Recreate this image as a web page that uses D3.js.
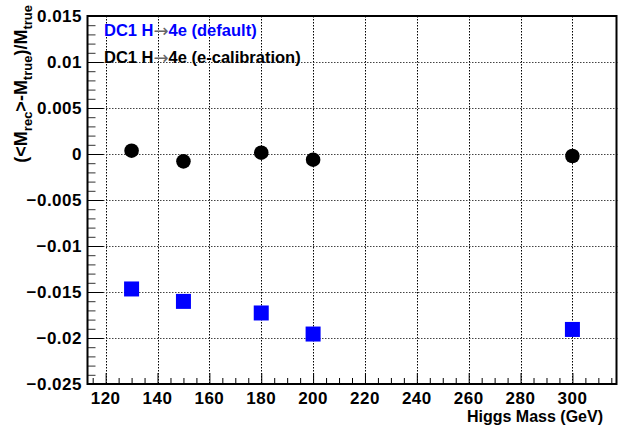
<!DOCTYPE html>
<html>
<head>
<meta charset="utf-8">
<script src="https://cdn.jsdelivr.net/npm/d3@7"></script>
<style>
	body { margin: 0; background: #fff; }
	svg { display: block; font-family: "Liberation Sans", Arial, sans-serif; }
</style>
</head>
<body>
<script>
// values
var masses = [130, 150, 180, 200, 300];
var defaultVals = [-0.01467, -0.01602, -0.01728, -0.01957, -0.01907];
var calibVals = [0.00036, -0.0008, 0.00014, -0.00062, -0.00022];

var xTicks = [120, 140, 160, 180, 200, 220, 240, 260, 280, 300];
var yTicks = [-0.025, -0.02, -0.015, -0.01, -0.005, 0, 0.005, 0.01, 0.015];
var legendLabels = ['(default)', '(e-calibration)'];

var w = 618, h = 427;
var frame = {left: 87.5, right: 616.5, top: 16, bottom: 384};

var svg = d3.select('body').append('svg')
	.attr('width', w)
	.attr('height', h);

var x = d3.scaleLinear().domain([113, 317]).range([frame.left, frame.right]);
var y = d3.scaleLinear().domain([-0.025, 0.015]).range([frame.bottom, frame.top]);

// dotted grid at the major ticks, built from small dots (dasharray did not show up)
var grid = svg.append('g').attr('class', 'grid');
var vDots = d3.range(Math.ceil(frame.top), frame.bottom, 3);
var hDots = d3.range(Math.ceil(frame.left), frame.right, 3);

xTicks.forEach(function(t){
	var gx = Math.round(x(t));
	grid.append('g').selectAll('rect')
		.data(vDots).enter()
		.append('rect')
		.attr('x', gx)
		.attr('y', function(d){ return d; })
		.attr('width', 1)
		.attr('height', 1.5)
		.attr('fill', '#000');
});
yTicks.slice(1, -1).forEach(function(t){
	var gy = Math.round(y(t));
	grid.append('g').selectAll('rect')
		.data(hDots).enter()
		.append('rect')
		.attr('x', function(d){ return d; })
		.attr('y', gy)
		.attr('width', 1.5)
		.attr('height', 1)
		.attr('fill', '#444');
});

// axes, ticks pointing inside like ROOT
var xAxis = d3.axisTop(x)
	.tickValues(d3.range(115, 317, 5))
	.tickSize(6)
	.tickFormat('');
svg.append('g')
	.attr('transform', 'translate(0,' + frame.bottom + ')')
	.call(xAxis)
	.call(function(g){
		g.select('.domain').remove();
		g.selectAll('.tick line')
			.filter(function(d){ return d % 20 === 0; })
			.attr('y2', -11);
	});

var yAxis = d3.axisRight(y)
	.tickValues(d3.range(-24, 15, 1).map(function(d){ return d / 1000; }))
	.tickSize(8)
	.tickFormat('');
svg.append('g')
	.attr('transform', 'translate(' + frame.left + ',0)')
	.call(yAxis)
	.call(function(g){
		g.select('.domain').remove();
		g.selectAll('.tick line')
			.attr('stroke', '#333')
			.filter(function(d){ return Math.abs(Math.round(d * 1000)) % 5 === 0; })
			.attr('x2', 16)
			.attr('stroke', '#000');
	});

// tick labels
svg.append('g').selectAll('text')
	.data(xTicks).enter()
	.append('text')
	.attr('x', function(d){ return x(d); })
	.attr('y', 404)
	.attr('text-anchor', 'middle')
	.attr('font-size', 17)
	.attr('letter-spacing', 0.5)
	.attr('font-weight', 'bold')
	.text(function(d){ return d; });

svg.append('g').selectAll('text')
	.data(yTicks).enter()
	.append('text')
	.attr('x', 82)
	.attr('y', function(d){ return y(d); })
	.attr('dy', '0.36em')
	.attr('text-anchor', 'end')
	.attr('font-size', 17)
	.attr('letter-spacing', 0.5)
	.attr('font-weight', 'bold')
	.text(function(d){ return d3.format('')(+d.toFixed(3)); });

// frame
svg.append('rect')
	.attr('x', frame.left)
	.attr('y', frame.top)
	.attr('width', frame.right - frame.left)
	.attr('height', frame.bottom - frame.top)
	.attr('fill', 'none')
	.attr('stroke', '#000')
	.attr('stroke-width', 2);

// axis titles
svg.append('text')
	.attr('x', 603)
	.attr('y', 422)
	.attr('text-anchor', 'end')
	.attr('font-size', 16)
	.attr('font-weight', 'bold')
	.text('Higgs Mass (GeV)');

var yTitle = svg.append('text')
	.attr('transform', 'translate(27,5) rotate(-90)')
	.attr('text-anchor', 'end')
	.attr('font-size', 18)
	.attr('font-weight', 'bold');
var parts = [['(<M', 0], ['rec', 1], ['>-M', 0], ['true', 1], [')/M', 0], ['true', 1]];
var shift = 0;
parts.forEach(function(p){
	var dy = p[1] ? 5 - shift : -shift;
	shift += dy;
	yTitle.append('tspan')
		.attr('dy', dy)
		.attr('font-size', p[1] ? 13 : 18)
		.text(p[0]);
});

// markers
var pts = masses.map(function(m, i){ return {m: m, a: defaultVals[i], b: calibVals[i]}; });
svg.append('g').selectAll('rect')
	.data(pts).enter()
	.append('rect')
	.attr('x', function(d){ return x(d.m) - 7.5; })
	.attr('y', function(d){ return y(d.a) - 7.5; })
	.attr('width', 15)
	.attr('height', 15)
	.attr('fill', '#0000ff');
svg.append('g').selectAll('circle')
	.data(pts).enter()
	.append('circle')
	.attr('cx', function(d){ return x(d.m); })
	.attr('cy', function(d){ return y(d.b); })
	.attr('r', 7.3)
	.attr('fill', '#000');

// legend text
var legendColors = ['#0000ff', '#000'];
legendLabels.forEach(function(lbl, i){
	var t = svg.append('text')
		.attr('x', 104)
		.attr('y', 36 + i * 27)
		.attr('font-size', 16.5)
		.attr('font-weight', 'bold')
		.attr('fill', legendColors[i]);
	t.append('tspan').text('DC1 H');
	t.append('tspan')
		.attr('font-weight', 'normal')
		.attr('font-family', 'DejaVu Sans')
		.attr('font-size', 18)
		.attr('fill', '#666')
		.attr('dy', 1)
		.text('\u2192');
	t.append('tspan').attr('dy', -1).text('4e ' + lbl);
});
</script>
</body>
</html>
